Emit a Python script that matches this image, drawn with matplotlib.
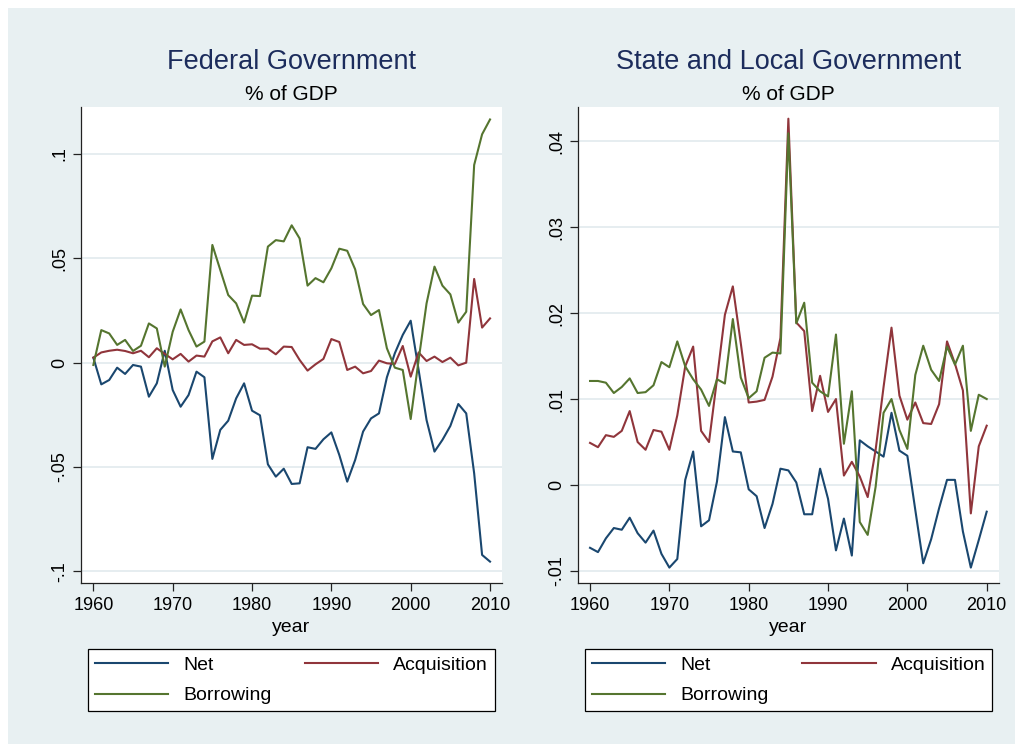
from matplotlib import pyplot as plt
from matplotlib.patches import Rectangle

plt.rcParams['font.family'] = ['Liberation Sans', 'DejaVu Sans']

## Data (share of GDP), 1960-2010
years = list(range(1960, 2011))

fed_net = [0.0024, -0.0104, -0.0083, -0.0024, -0.0054, -0.0011, -0.0019, -0.0163, -0.0099, 0.0057,
           -0.0131, -0.0211, -0.0155, -0.0043, -0.0070, -0.0461, -0.0322, -0.0278, -0.0171, -0.0099,
           -0.0230, -0.0252, -0.0487, -0.0546, -0.0508, -0.0581, -0.0578, -0.0405, -0.0413, -0.0367,
           -0.0334, -0.0442, -0.0570, -0.0466, -0.0330, -0.0267, -0.0243, -0.0070, 0.0045, 0.0133,
           0.0201, -0.0035, -0.0275, -0.0426, -0.0370, -0.0303, -0.0198, -0.0243, -0.0530, -0.0921,
           -0.0953]
fed_acq = [0.0024, 0.0049, 0.0057, 0.0062, 0.0056, 0.0045, 0.0057, 0.0026, 0.0069, 0.0042,
           0.0016, 0.0042, 0.0005, 0.0034, 0.0029, 0.0102, 0.0121, 0.0045, 0.0109, 0.0085,
           0.0088, 0.0067, 0.0067, 0.0040, 0.0077, 0.0075, 0.0013, -0.0038, -0.0008, 0.0018,
           0.0113, 0.0099, -0.0035, -0.0019, -0.0051, -0.0040, 0.0010, -0.0003, -0.0006, 0.0080,
           -0.0067, 0.0049, 0.0008, 0.0029, 0.0003, 0.0024, -0.0013, 0.0000, 0.0401, 0.0168,
           0.0212]
fed_bor = [-0.0011, 0.0156, 0.0140, 0.0085, 0.0109, 0.0056, 0.0081, 0.0188, 0.0164, -0.0019,
           0.0148, 0.0255, 0.0156, 0.0077, 0.0101, 0.0564, 0.0444, 0.0324, 0.0284, 0.0192,
           0.0321, 0.0319, 0.0556, 0.0587, 0.0581, 0.0658, 0.0595, 0.0369, 0.0405, 0.0385,
           0.0452, 0.0546, 0.0536, 0.0447, 0.0281, 0.0228, 0.0252, 0.0069, -0.0024, -0.0035,
           -0.0270, 0.0013, 0.0284, 0.0460, 0.0369, 0.0327, 0.0192, 0.0244, 0.0947, 0.1094,
           0.1165]

sl_net = [-0.0073, -0.0078, -0.0062, -0.0050, -0.0052, -0.0038, -0.0056, -0.0067, -0.0053, -0.0080,
          -0.0096, -0.0086, 0.0006, 0.0039, -0.0048, -0.0041, 0.0004, 0.0079, 0.0039, 0.0038,
          -0.0005, -0.0013, -0.0050, -0.0022, 0.0019, 0.0017, 0.0003, -0.0034, -0.0034, 0.0019,
          -0.0016, -0.0076, -0.0039, -0.0082, 0.0052, 0.0045, 0.0039, 0.0033, 0.0084, 0.0040,
          0.0034, -0.0029, -0.0091, -0.0063, -0.0027, 0.0006, 0.0006, -0.0054, -0.0096, -0.0064,
          -0.0031]
sl_acq = [0.0049, 0.0044, 0.0058, 0.0056, 0.0063, 0.0086, 0.0050, 0.0041, 0.0064, 0.0062,
          0.0041, 0.0081, 0.0138, 0.0161, 0.0063, 0.0050, 0.0123, 0.0198, 0.0231, 0.0165,
          0.0096, 0.0097, 0.0099, 0.0126, 0.0171, 0.0426, 0.0189, 0.0179, 0.0086, 0.0127,
          0.0085, 0.0100, 0.0011, 0.0027, 0.0010, -0.0014, 0.0041, 0.0114, 0.0183, 0.0104,
          0.0076, 0.0096, 0.0072, 0.0071, 0.0094, 0.0167, 0.0141, 0.0110, -0.0033, 0.0045,
          0.0069]
sl_bor = [0.0121, 0.0121, 0.0119, 0.0107, 0.0114, 0.0124, 0.0107, 0.0108, 0.0116, 0.0143,
          0.0137, 0.0167, 0.0138, 0.0123, 0.0111, 0.0092, 0.0123, 0.0118, 0.0193, 0.0125,
          0.0101, 0.0109, 0.0148, 0.0154, 0.0153, 0.0409, 0.0188, 0.0212, 0.0119, 0.0109,
          0.0103, 0.0175, 0.0048, 0.0109, -0.0043, -0.0058, -0.0002, 0.0084, 0.0100, 0.0064,
          0.0042, 0.0128, 0.0162, 0.0134, 0.0121, 0.0161, 0.0140, 0.0162, 0.0063, 0.0105,
          0.0100]

x_ticks = [1960, 1970, 1980, 1990, 2000, 2010]
fed_yticks = [-0.1, -0.05, 0, 0.05, 0.1]
fed_ylabels = ['-.1', '-.05', '0', '.05', '.1']
sl_yticks = [-0.01, 0, 0.01, 0.02, 0.03, 0.04]
sl_ylabels = ['-.01', '0', '.01', '.02', '.03', '.04']

series_names = ['Net', 'Acquisition', 'Borrowing']
colors = ['#1a476f', '#90353b', '#55752f']

## Figure with Stata-like background
fig = plt.figure(figsize=(10.22, 7.49), dpi=100, facecolor='white')
bg = Rectangle((8 / 1022, 1 - 744 / 749), 1007 / 1022, 736 / 749,
               transform=fig.transFigure, facecolor='#e8f0f2',
               edgecolor='none', zorder=-10)
fig.add_artist(bg)

ax1 = fig.add_axes([0.079, 0.2212, 0.4122, 0.6363])
ax2 = fig.add_axes([0.5653, 0.2212, 0.4125, 0.6363])

panels = [
    (ax1, 'Federal Government', [fed_net, fed_acq, fed_bor], fed_yticks, fed_ylabels,
     (1958.41, 2011.51), (-0.1057, 0.1226)),
    (ax2, 'State and Local Government', [sl_net, sl_acq, sl_bor], sl_yticks, sl_ylabels,
     (1958.45, 2011.59), (-0.01143, 0.04399)),
]

for ax, title, series, yt, yl, xlim, ylim in panels:
    ax.set_facecolor('white')
    handles = []
    for name, vals, c in zip(series_names, series, colors):
        h, = ax.plot(years, vals, color=c, lw=1.5, label=name, zorder=3)
        handles.append(h)
    ax.set_xlim(*xlim)
    ax.set_ylim(*ylim)
    ax.set_xticks(x_ticks)
    ax.set_yticks(yt)
    ax.set_yticklabels(yl, rotation=90, va='center')
    for v in yt:
        ax.axhline(v, color='#e4ecef', lw=1.3, zorder=1)
    for side in ['top', 'right']:
        ax.spines[side].set_visible(False)
    for side in ['left', 'bottom']:
        ax.spines[side].set_color('#222222')
        ax.spines[side].set_linewidth(0.9)
    ax.tick_params(axis='both', labelsize=13, length=6, width=0.9, color='#222222')
    ax.tick_params(axis='x', pad=4)
    ax.tick_params(axis='y', pad=3)
    ax.text(0.5, 1.094, title, transform=ax.transAxes, ha='center', va='center',
            fontsize=19.5, color='#1c2c5c')
    ax.text(0.5, 1.026, '% of GDP', transform=ax.transAxes, ha='center', va='center',
            fontsize=15, color='black')
    ax.text(0.5, -0.0917, 'year', transform=ax.transAxes, ha='center', va='center',
            fontsize=14, color='black')
    ### Legend: row-wise order Net | Acquisition / Borrowing
    leg = ax.legend([handles[0], handles[2], handles[1]],
                    [series_names[0], series_names[2], series_names[1]],
                    ncol=2, mode='expand', loc='center',
                    bbox_to_anchor=(0.0173, -0.2714, 0.966, 0.1364),
                    fontsize=14, handlelength=3.76, handletextpad=0.77,
                    borderpad=0.36, labelspacing=0.68, fancybox=False,
                    framealpha=1, edgecolor='black', borderaxespad=0)
    leg.get_frame().set_linewidth(0.9)

plt.savefig('out.png', dpi=100, facecolor='white')
plt.close()
